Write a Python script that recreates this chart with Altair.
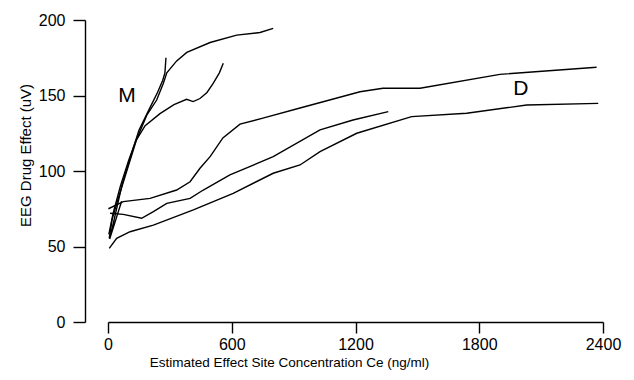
import altair as alt
import pandas as pd

# ---- data (concentration ng/ml, effect uV) ----
d1_x = [2, 74, 204, 333, 398, 446, 495, 557, 640, 751, 931, 1222, 1333, 1513, 1900, 2369]
d1_y = [75, 79.7, 81.9, 87.4, 92.9, 101.8, 109.5, 121.9, 131, 135, 141.7, 152.5, 154.8, 154.8, 164, 168.7]

d2_x = [10, 74, 163, 220, 285, 398, 462, 591, 801, 1028, 1188, 1359]
d2_y = [72, 71.3, 68.7, 73.1, 78.6, 81.9, 87.4, 97.4, 109.5, 127.2, 133.8, 139.3]

d3_x = [6, 42, 107, 220, 414, 607, 801, 931, 1028, 1206, 1472, 1739, 2030, 2377]
d3_y = [48.8, 55.4, 59.8, 64.2, 74.2, 85.2, 98.5, 104, 112.8, 125, 136, 138.2, 143.7, 144.8]

m1_x = [6, 20, 50, 91, 139, 188, 236, 268, 285, 333, 382, 495, 624, 737, 801]
m1_y = [55.4, 68, 82, 100, 121, 137, 147, 158, 165, 172.9, 178.5, 185.1, 190, 191.7, 194.4]

m2_x = [4, 25, 60, 100, 135, 180, 252, 320, 381, 413, 446, 480, 510, 540, 559]
m2_y = [58, 72, 90, 107, 120, 130, 138, 144, 147.5, 146, 148, 152, 158, 165, 171.3]

m3_x = [66, 20, 8, 30, 70, 115, 150, 200, 240, 265, 276, 281]
m3_y = [80, 60, 55, 68, 92, 112, 127, 141, 152, 160, 165, 175]

label_text = ["M", "D"]
label_x = [92, 2002]
label_y = [150, 154]

x_ticks = [0, 600, 1200, 1800, 2400]
y_ticks = [0, 50, 100, 150, 200]

series = {
    "D1": (d1_x, d1_y), "D2": (d2_x, d2_y), "D3": (d3_x, d3_y),
    "M1": (m1_x, m1_y), "M2": (m2_x, m2_y), "M3": (m3_x, m3_y),
}
rows = []
for name, (xs_, ys_) in series.items():
    for i, (xv, yv) in enumerate(zip(xs_, ys_)):
        rows.append({"series": name, "x": xv, "y": yv, "i": i})
df = pd.DataFrame(rows)
lab = pd.DataFrame({"t": label_text, "x": label_x, "y": label_y})

FONT = "Liberation Sans"

xs = alt.Scale(domain=[0, 2400], nice=False)
ys = alt.Scale(domain=[0, 200], nice=False)

lines = alt.Chart(df).mark_line(color="black", strokeWidth=1.4).encode(
    x=alt.X("x:Q", scale=xs, axis=alt.Axis(
        values=x_ticks, format="d", title="Estimated Effect Site Concentration Ce (ng/ml)",
        grid=False, tickSize=11, tickColor="black", domainColor="black",
        domainWidth=1.4, tickWidth=1.4, labelFontSize=16, labelPadding=3,
        labelColor="black", labelFont=FONT, titleFont=FONT, titleFontSize=13.5,
        titleFontWeight="normal", titleColor="black", titleX=181, titleY=40,
        titleAlign="center", titleBaseline="middle", labelFlush=False)),
    y=alt.Y("y:Q", scale=ys, axis=alt.Axis(
        values=y_ticks, format="d", title="EEG Drug Effect (uV)", offset=23,
        grid=False, tickSize=12, tickColor="black", domainColor="black",
        domainWidth=1.4, tickWidth=1.4, labelFontSize=16, labelPadding=8,
        labelColor="black", labelFont=FONT, titleFont=FONT, titleFontSize=15,
        titleFontWeight="normal", titleColor="black", titleX=-60, titleY=135,
        titleAlign="center", titleBaseline="middle", labelFlush=False)),
    detail="series:N",
    order="i:Q",
)

texts = alt.Chart(lab).mark_text(font=FONT, fontSize=21, color="black").encode(
    x=alt.X("x:Q", scale=xs), y=alt.Y("y:Q", scale=ys), text="t:N"
)

chart = alt.layer(lines, texts).properties(
    width=495, height=302,
    autosize=alt.AutoSizeParams(type="none"),
    padding={"left": 100, "top": 12, "right": 23, "bottom": 48},
).configure_view(stroke=None)

chart.save("out.html", embed_options={"renderer": "svg", "actions": False})
